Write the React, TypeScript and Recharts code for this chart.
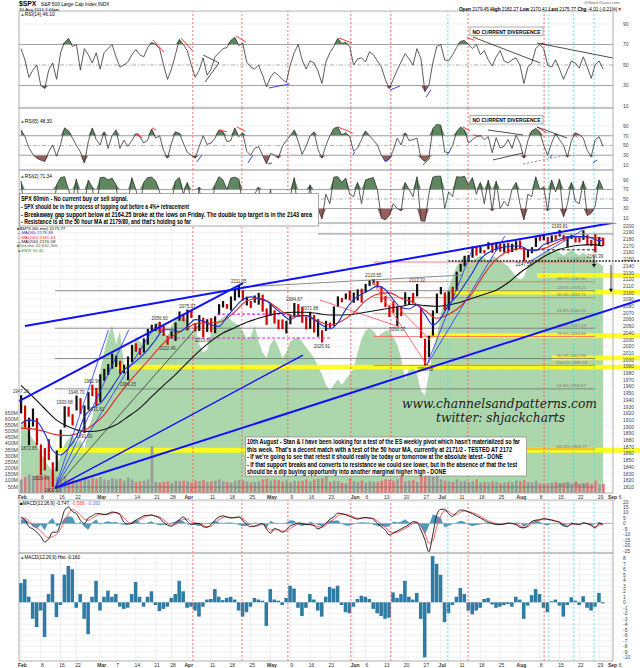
import React from "react";
import {
  ComposedChart, Line, Area, Bar, Cell, XAxis, YAxis, CartesianGrid,
  ReferenceLine, ReferenceArea, ReferenceDot,
} from "recharts";

const FONT = "'Liberation Sans', Arial, Helvetica, sans-serif";

// x = trading-day index: 0 = 1 Feb 2016 ... 147 = 30 Aug 2016
const closes = [
  1939.38, 1903.03, 1912.53, 1915.45, 1880.05, 1853.44, 1852.21, 1851.86, 1829.08, 1864.78, 1895.58, 1926.82, 1917.83, 1917.78, 1945.50, 1921.27, 1929.80, 1951.70, 1948.05, 1932.23,
  1978.35, 1986.45, 1993.40, 1999.99, 2001.76, 1979.26, 1989.26, 1989.57, 2022.19, 2019.64, 2015.93, 2027.22, 2040.59, 2049.58, 2051.60, 2049.80, 2036.71, 2035.94, 2037.05, 2055.01, 2063.95, 2059.74,
  2072.78, 2066.13, 2045.17, 2066.66, 2041.91, 2047.60, 2041.99, 2061.72, 2082.42, 2082.78, 2080.73, 2094.34, 2100.80, 2102.40, 2091.48, 2091.58, 2087.79, 2091.70, 2095.15, 2075.81, 2065.30,
  2081.43, 2063.37, 2051.12, 2050.63, 2057.14, 2058.69, 2084.39, 2064.46, 2064.11, 2046.61, 2066.66, 2047.21, 2047.63, 2040.04, 2052.32, 2048.04, 2076.06, 2090.54, 2090.10, 2099.06, 2096.95,
  2099.33, 2105.26, 2099.13, 2109.41, 2112.13, 2119.12, 2115.48, 2096.07, 2079.06, 2075.32, 2071.50, 2077.99, 2071.22, 2083.25, 2088.90, 2085.45, 2113.32, 2037.41, 2000.54, 2036.09, 2070.77, 2098.86,
  2102.95, 2088.55, 2099.73, 2097.90, 2129.90, 2137.16, 2152.14, 2152.43, 2163.75, 2161.74, 2166.89, 2163.78, 2173.02, 2165.17, 2175.03, 2168.48, 2169.18, 2166.58, 2170.06, 2173.60,
  2170.84, 2157.03, 2163.79, 2164.25, 2182.87, 2180.89, 2181.74, 2175.49, 2185.79, 2184.05, 2190.15, 2178.15, 2182.22, 2187.02, 2183.87, 2182.64, 2186.90, 2175.44, 2172.47, 2169.04, 2180.38, 2175.77,
];
const highs = [
  1947.20, 1931.70, 1913.74, 1927.35, 1913.07, 1873.70, 1868.25, 1881.60, 1847.04, 1864.78, 1895.77, 1930.68, 1930.01, 1918.78, 1946.70, 1942.75, 1932.08, 1951.83, 1962.96, 1958.27,
  1978.35, 1986.51, 1993.69, 2009.13, 2006.12, 1998.68, 1992.69, 2005.08, 2022.37, 2024.57, 2017.63, 2032.02, 2046.18, 2052.36, 2053.91, 2056.60, 2051.00, 2036.04, 2042.67, 2055.91, 2072.21, 2067.63,
  2075.07, 2074.02, 2055.20, 2067.03, 2062.93, 2060.63, 2062.32, 2065.05, 2083.18, 2087.84, 2083.22, 2094.66, 2104.92, 2111.05, 2103.94, 2094.32, 2087.84, 2096.06, 2099.89, 2097.36, 2076.72,
  2083.42, 2074.04, 2060.06, 2060.23, 2058.35, 2067.77, 2084.87, 2083.29, 2079.12, 2064.15, 2071.88, 2067.05, 2060.61, 2044.21, 2058.35, 2055.58, 2079.67, 2094.73, 2092.35, 2099.06, 2103.48,
  2100.41, 2105.26, 2106.24, 2113.36, 2119.22, 2120.55, 2117.64, 2109.58, 2095.14, 2081.30, 2087.60, 2079.62, 2079.62, 2100.83, 2093.94, 2099.71, 2113.32, 2076.87, 2031.45, 2036.09, 2073.74, 2098.94,
  2108.71, 2100.72, 2102.07, 2109.08, 2131.71, 2143.16, 2155.40, 2156.45, 2168.99, 2169.05, 2168.35, 2163.79, 2175.63, 2174.56, 2175.11, 2173.71, 2173.54, 2174.98, 2173.14, 2177.09,
  2178.29, 2168.09, 2163.95, 2168.19, 2182.87, 2185.44, 2187.66, 2183.41, 2185.79, 2186.28, 2193.81, 2186.24, 2183.48, 2187.03, 2185.00, 2184.87, 2193.42, 2186.66, 2179.00, 2187.94, 2183.48, 2182.27,
];
const lows = [
  1920.03, 1898.80, 1872.65, 1900.52, 1872.65, 1828.46, 1834.94, 1850.32, 1810.10, 1833.58, 1868.25, 1898.80, 1915.09, 1902.17, 1924.44, 1919.44, 1891.00, 1925.41, 1945.78, 1931.81,
  1937.09, 1968.80, 1977.37, 1986.77, 1989.38, 1978.45, 1979.84, 1969.25, 1996.71, 2012.05, 2007.21, 2010.95, 2022.62, 2041.89, 2043.14, 2040.57, 2035.73, 2022.49, 2031.96, 2028.31, 2058.36, 2057.50,
  2043.98, 2062.57, 2042.39, 2043.09, 2033.80, 2041.69, 2041.16, 2039.74, 2066.69, 2078.13, 2076.31, 2073.65, 2088.50, 2093.11, 2088.48, 2081.20, 2077.52, 2085.36, 2082.31, 2071.88, 2052.28,
  2066.11, 2054.15, 2045.55, 2045.77, 2039.30, 2053.13, 2064.62, 2064.46, 2055.37, 2045.43, 2046.32, 2040.82, 2034.49, 2025.91, 2043.26, 2047.26, 2050.37, 2078.93, 2085.91, 2090.34, 2088.66,
  2085.10, 2088.59, 2085.36, 2100.66, 2110.37, 2112.41, 2107.73, 2085.87, 2078.96, 2064.10, 2070.29, 2050.37, 2065.26, 2082.31, 2082.30, 2084.36, 2094.76, 2032.57, 1991.68, 2003.93, 2036.22, 2070.00,
  2097.90, 2074.02, 2074.02, 2089.39, 2103.48, 2131.72, 2139.58, 2146.21, 2152.49, 2155.79, 2159.07, 2158.79, 2164.89, 2159.75, 2163.24, 2161.55, 2160.18, 2159.07, 2161.07, 2163.49,
  2166.21, 2147.58, 2152.70, 2159.07, 2168.56, 2177.85, 2178.61, 2172.00, 2175.96, 2179.42, 2184.05, 2178.14, 2168.50, 2180.46, 2175.13, 2175.30, 2179.12, 2171.25, 2169.74, 2160.39, 2170.18, 2170.41,
];
const volumeM = [
  110, 130, 150, 140, 145, 160, 150, 140, 170, 130, 120, 135, 110, 120, 105, 100, 125, 110, 120, 115,
  130, 110, 105, 120, 110, 115, 100, 125, 110, 90, 95, 100, 110, 380, 90, 85, 90, 95, 80, 100, 95, 100,
  95, 85, 100, 95, 105, 90, 95, 100, 110, 95, 90, 85, 100, 105, 100, 95, 85, 90, 95, 110, 115,
  100, 110, 105, 95, 100, 90, 100, 95, 100, 110, 95, 110, 115, 120, 170, 90, 100, 95, 85, 80, 120,
  95, 90, 100, 85, 95, 90, 90, 100, 110, 105, 100, 110, 250, 95, 100, 105, 90, 220, 180, 140, 130, 150,
  110, 100, 95, 90, 110, 95, 100, 90, 95, 110, 85, 90, 85, 95, 90, 80, 85, 90, 85, 100,
  95, 105, 90, 85, 100, 80, 75, 80, 85, 90, 80, 85, 90, 75, 95, 70, 80, 85, 75, 100, 70, 75,
];
// green breadth overlay, 0-100 of panel height
const breadth = [
  25, 28, 22, 20, 18, 15, 12, 10, 8, 10, 14, 18, 20, 22, 18, 20, 16, 24, 28, 35,
  45, 52, 58, 62, 55, 60, 48, 40, 52, 58, 56, 55, 58, 60, 62, 64, 60, 58, 62, 64,
  66, 65, 64, 60, 62, 55, 52, 53, 60, 63, 64, 65, 66, 64, 63, 62, 60, 57, 58, 62,
  56, 52, 50, 55, 57, 54, 50, 52, 56, 57, 58, 56, 54, 52, 50, 47, 44, 40, 38, 40,
  42, 40, 42, 44, 46, 52, 57, 60, 61, 60, 58, 59, 60, 60, 58, 55, 50, 42, 46, 48,
  44, 38, 36, 44, 52, 58, 66, 72, 76, 80, 84, 86, 88, 87, 86, 87, 88, 87, 86, 88,
  87, 86, 85, 84, 82, 80, 79, 80, 84, 86, 87, 88, 89, 90, 89, 90, 89, 88, 89, 90,
  89, 88, 89, 88, 87, 86, 85, 84,
];
const rsi14 = [
  66, 55, 38, 45, 50, 30, 27, 45, 52, 36, 62, 72, 76, 68, 70, 45, 66, 60, 52, 62,
  46, 62, 66, 70, 58, 48, 50, 53, 60, 65, 60, 58, 67, 72, 70, 66, 50, 36, 46, 60,
  75, 70, 64, 50, 38, 45, 57, 40, 46, 58, 62, 66, 67, 74, 77, 69, 71, 53, 48, 46,
  50, 40, 29, 38, 43, 40, 36, 33, 50, 62, 70, 55, 46, 54, 52, 44, 32, 53, 62, 68,
  76, 71, 72, 68, 50, 56, 57, 53, 63, 60, 54, 48, 36, 27, 36, 45, 53, 61, 56, 50,
  66, 56, 24, 30, 52, 68, 70, 55, 54, 60, 67, 73, 74, 70, 66, 70, 60, 64, 55, 49,
  58, 64, 54, 52, 55, 57, 50, 32, 48, 52, 66, 70, 66, 50, 48, 55, 46, 36, 45, 54,
  52, 47, 58, 48, 37, 50, 54, 46,
];
const rsi5 = [
  82, 68, 45, 32, 24, 20, 17, 37, 51, 28, 52, 86, 80, 65, 50, 37, 14, 58, 86, 62,
  51, 78, 44, 70, 82, 44, 61, 48, 60, 74, 68, 55, 61, 84, 65, 70, 40, 24, 55, 78,
  75, 55, 36, 30, 24, 48, 70, 52, 55, 65, 82, 78, 58, 60, 86, 68, 76, 38, 30, 44,
  48, 30, 12, 34, 30, 24, 48, 60, 70, 82, 58, 32, 48, 70, 78, 42, 24, 50, 70, 85,
  88, 72, 76, 68, 38, 45, 62, 80, 70, 61, 51, 30, 17, 22, 40, 65, 51, 76, 60, 62,
  65, 24, 17, 25, 85, 93, 92, 37, 35, 50, 78, 88, 82, 55, 62, 68, 70, 62, 68, 35,
  66, 45, 48, 62, 44, 71, 55, 24, 60, 80, 85, 78, 50, 30, 55, 74, 62, 50, 26, 60,
  76, 72, 65, 40, 27, 62, 68, 48,
];
const rsi2 = [
  88, 12, 45, 60, 15, 8, 30, 55, 6, 80, 95, 97, 70, 45, 92, 15, 40, 90, 75, 20,
  95, 96, 90, 94, 80, 10, 55, 40, 95, 70, 35, 85, 95, 96, 88, 65, 20, 12, 40, 88, 95, 60,
  85, 45, 10, 75, 8, 40, 25, 80, 97, 90, 70, 94, 96, 92, 35, 40, 25, 60, 75, 12, 8,
  70, 15, 8, 12, 45, 55, 95, 20, 30, 10, 80, 15, 30, 8, 60, 40, 96, 97, 85, 94, 60,
  55, 85, 40, 90, 93, 95, 70, 10, 6, 15, 40, 30, 25, 85, 70, 55, 97, 4, 3, 60, 96, 98,
  98, 30, 65, 55, 97, 96, 98, 80, 95, 60, 85, 40, 90, 25, 88, 30, 45, 35, 70, 85,
  40, 6, 60, 55, 97, 70, 75, 25, 90, 65, 92, 12, 40, 85, 45, 40, 88, 15, 20, 35, 90, 71,
];
const macdLine = [
  6, 3, -3, -5, -8, -12, -17, -14, -8, -8, 0, 12, 15, 11, 9, 3, 0, 5, 7, 9,
  9, 8, 9, 10.5, 10, 8, 1, -0.5, 0, 3, 5, 7, 7.5, 7.8, 6.5, 5, 1, -1.5, -2.5, 0.5,
  3.5, 6, 2, -1, 0, 0, -3, -3.5, -1, 3, 6, 7, 6, 5, 5.5, 6, 3, -1, -3, -2.5,
  -1, 0, -5, -9, -4.5, -6, -8, -6, -2, -1, 0.5, 0, -1, -1, -2, -5, -3, 0, 4, 6,
  9.5, 9, 8, 6.5, 5, 4, 5, 5.5, 5, 4, 0, -3, -6, -10.5, -9, -7, -5, -3, -1, 1.7,
  1, -6, -15, -26, -10, 8, 13, 13, 9, 6.5, 10, 12.4, 12, 10.5, 9, 7, 5, 3, 1, 0,
  -1, -1, -0.5, 0.5, 0, -1, -3.5, -4, -2, 2, 3, 3.5, 4.5, 3.8, 3, 2, 1, -2, -3, 0,
  -0.5, -1, 0.5, 0, -2, -4, 0, -0.7,
];
const macdSignal = [
  4, 5, 2, -1, -4, -7, -11, -13, -12, -10, -5, 2, 9, 13, 11, 8, 4, 3, 5, 7,
  8.5, 8.5, 8.5, 9.5, 10, 9, 5, 1.5, 0, 1.5, 3.5, 5.5, 7, 7.5, 7, 6, 3.5, 0.5, -1.5, -1,
  1.5, 4, 4, 1.5, 0.5, 0, -1.5, -3, -2.5, 0.5, 3.5, 5.5, 6, 5.5, 5.3, 5.7, 4.5, 1.5, -1, -2.5,
  -2, -1, -3, -6, -6, -5.5, -7, -7, -4.5, -2.5, -0.5, 0, -0.5, -1, -1.5, -3, -3.5, -1.5, 1.5, 4,
  7, 8.5, 8.5, 7.5, 6, 4.8, 4.7, 5, 5, 4.5, 2.5, -0.5, -3.5, -7, -8.5, -8, -6.5, -4.5, -2.5, 0,
  1, -2.5, -9, -18, -16, -3, 7, 11.5, 11, 8.5, 8.5, 10.5, 11.5, 11, 10, 8.5, 6.5, 4.5, 2.5, 1,
  0, -0.5, -0.7, 0, 0, -0.5, -2, -3.5, -3, 0, 2, 3, 4, 4, 3.5, 2.5, 1.5, -0.5, -2, -1,
  -0.5, -0.7, 0, 0, -1, -3, -1.5, -0.5,
];
const macdHist = [
  3.5, 4.2, 1.0, -3.0, -4.5, -1.5, -6.3, 1.5, 5.1, -2.7, -0.5, 5.0, 6.6, 6.0, -1.0, 1.5, -3.0, -5.8, 1.0, 3.9,
  -1.5, 1.0, 2.1, 1.0, 1.5, -0.8, -1.2, -1.0, 1.5, 3.7, 1.0, -0.8, 1.0, 2.0, -0.5, -1.6, -1.2, -0.8, 0.8, 1.5,
  3.9, 2.0, -1.0, -0.8, -1.5, -2.6, -0.8, 0.5, 0.6, 2.4, 1.0, 0.4, 0.8, 1.0, 0.5, -1.5, -2.6, -1.8, -0.8, 0.8,
  0.5, 0.3, -4.3, 2.4, 0.5, 0.3, -0.5, 0.8, 3.0, 2.5, -1.0, -2.5, -1.0, 1.5, 0.5, -1.5, -2.6, 1.0, 2.8, 2.5,
  3.0, -0.5, -1.8, -2.0, -0.8, 0.6, 1.2, 1.0, 0.6, -1.2, -2.0, -2.5, -3.0, -2.8, 1.8, 0.8, 1.5, 3.9, 1.0, 0.5,
  1.7, -3.0, -10.0, -2.0, 8.4, 7.0, 5.0, -3.6, -2.0, -0.5, 1.0, 2.6, 1.5, -1.5, -2.2, -1.5, -1.0, 0.6, 0.8, -0.4,
  -1.0, -0.8, -0.5, -0.3, -0.8, 1.0, 0.5, -3.0, -0.6, 1.3, 2.4, 1.5, -1.0, -1.8, 0.2, 0.5, -0.6, -2.6, -0.5, 0.9,
  0.3, -0.5, 1.1, -1.0, -1.5, -0.8, 1.7, -0.2,
];
// moving averages [day, value]
const ma50 = [
  [0, 1905], [2, 1910], [4, 1908], [6, 1890], [8, 1865], [10, 1858], [12, 1868], [14, 1885], [16, 1915], [18, 1928],
  [20, 1935], [22, 1950], [24, 1968], [26, 1985], [28, 1993], [30, 2003], [32, 2015], [34, 2030], [36, 2045], [38, 2045],
  [40, 2042], [42, 2050], [44, 2060], [46, 2058], [48, 2052], [50, 2050], [52, 2064], [54, 2078], [56, 2090], [58, 2094],
  [60, 2091], [62, 2088], [64, 2078], [66, 2068], [68, 2060], [70, 2066], [72, 2066], [74, 2060], [76, 2052], [78, 2046],
  [80, 2055], [82, 2075], [84, 2090], [86, 2098], [88, 2104], [90, 2110], [92, 2105], [94, 2090], [96, 2078], [98, 2076],
  [100, 2082], [102, 2068], [104, 2052], [106, 2062], [108, 2082], [110, 2095], [112, 2112], [114, 2130], [116, 2150], [118, 2160],
  [120, 2166], [122, 2168], [124, 2170], [126, 2170], [128, 2164], [130, 2163], [132, 2172], [134, 2176], [136, 2180], [138, 2184],
  [140, 2184], [142, 2184], [144, 2182], [146, 2178], [147, 2179.4],
];
const ma100 = [
  [0, 1898], [3, 1897], [6, 1893], [9, 1888], [12, 1887], [15, 1892], [18, 1902], [21, 1918], [24, 1942], [27, 1965],
  [30, 1985], [33, 2005], [36, 2025], [39, 2038], [42, 2048], [45, 2055], [48, 2055], [51, 2058], [54, 2072], [57, 2088],
  [60, 2092], [63, 2085], [66, 2072], [69, 2065], [72, 2066], [75, 2058], [78, 2052], [81, 2058], [84, 2070], [87, 2088],
  [90, 2098], [93, 2100], [96, 2092], [99, 2086], [102, 2074], [105, 2062], [108, 2068], [111, 2080], [114, 2100], [117, 2128],
  [120, 2150], [123, 2162], [126, 2166], [129, 2164], [132, 2166], [135, 2174], [138, 2182], [141, 2184], [144, 2183], [147, 2181.6],
];
const ma200 = [
  [0, 1962], [3, 1945], [6, 1927], [9, 1910], [12, 1900], [15, 1894], [18, 1893], [21, 1896], [24, 1903], [27, 1915],
  [30, 1928], [33, 1945], [36, 1962], [39, 1978], [42, 1996], [45, 2013], [48, 2028], [51, 2040], [54, 2048], [57, 2056],
  [60, 2062], [63, 2067], [66, 2070], [69, 2071], [72, 2071], [75, 2069], [78, 2067], [81, 2067], [84, 2068], [87, 2071],
  [90, 2074], [93, 2077], [96, 2080], [99, 2083], [102, 2081], [105, 2080], [108, 2082], [111, 2086], [114, 2092], [117, 2098],
  [120, 2104], [123, 2115], [126, 2130], [129, 2142], [132, 2154], [135, 2163], [138, 2168], [141, 2171], [144, 2172], [147, 2170],
];

const dateTicks = [0, 5, 10, 14, 20, 24, 29, 34, 38, 42, 48, 53, 58, 63, 68, 73, 78, 84, 87, 92, 97, 102, 106, 111, 116, 121, 126, 131, 136, 141, 146, 149];
const dateLabels = ["Feb", "8", "16", "22", "Mar", "7", "14", "21", "28", "Apr", "11", "18", "25", "May", "9", "16", "23", "Jun", "6", "13", "20", "27", "Jul", "11", "18", "25", "Aug", "8", "15", "22", "29", "Sep"];
const priceTicks = Array.from({ length: 40 }, (_, k) => 1810 + k * 10);
const volTicks = [50, 100, 150, 200, 250, 300, 350, 400, 450, 500, 550, 600, 650];
const rsiTicks = [10, 30, 50, 70, 90];
const macdTicks = [-25, -20, -15, -10, -5, 0, 5, 10, 15, 20];
const histTicks = [-10, -9, -8, -7, -6, -5, -4, -3, -2, -1, 0, 1, 2, 3, 4, 5, 6, 7, 8];

const redMarks = [43.4, 55.8, 67.4, 83.3, 93.4, 112.9, 132.1];
const cyanMarks = [107.8, 133.3, 139.6, 144.7];

// trendlines [day1, price1, day2, price2]
const blueThick = [[1.0, 2050.5, 156.3, 2211.7], [8.6, 1808.6, 156.3, 2089.3], [-0.5, 1938.5, 56.1, 2114.7]];
const blueMedium = [[8.6, 1808.6, 71.2, 2007.2]];
const blueThin = [
  [8.6, 1808.6, 22.1, 2044.5], [8.6, 1808.6, 27.2, 2044.5], [8.6, 1808.6, 33.2, 2044.5],
  [102.5, 1992.3, 113.9, 2164], [102.5, 1992.3, 122.2, 2184.9], [127.8, 2144.5, 141.9, 2193.8],
];
const blackThin = [[8.6, 1808.6, 45.2, 2053.5]];
const grayLines = [[55.8, 2108.7, 111.6, 2126.6], [75, 2188, 149.5, 2188]];
const redLines = [[88.6, 2117.7, 102.5, 1992.3], [88.6, 2117.7, 103.3, 2029.6], [75.5, 2089.3, 95.7, 2048.9]];
const magentaLines = [[49.5, 2068.4, 67.9, 2068.4], [36.9, 2032.6, 78, 2032.6]];

const grayFibPct = ["23.6%", "38.2%", "50.0%", "61.8%", "100.0%"];
const grayFibLevels = [2103.25, 2047.23, 2001.96, 1956.67, 1810.10];
const redFibPct = ["23.6%", "38.2%", "50.0%", "61.8%", "78.6%", "100.0%", "161.8%"];
const redFibLevels = [2146.11, 2116.60, 2092.75, 2068.90, 2034.86, 1991.68, 1866.77];
const yellowLevels = [2126, 2101, 2036, 2003, 1989, 1865];
const yellowStarts = [130.3, 109, 103.3, 134, 24.2, 9.3];

const pivotDays = [0, 11, 14, 18, 35, 42, 55, 69, 73, 89, 100, 136, 2, 5, 8, 16, 19, 27, 37, 46, 76, 95, 102, 127, 145];
const pivotPrices = [1947.20, 1930.68, 1946.70, 1962.96, 2056.60, 2075.07, 2111.05, 2084.87, 2071.88, 2120.55, 2113.32, 2193.81, 1872.65, 1828.46, 1810.10, 1891.00, 1931.81, 1969.25, 2022.49, 2033.80, 2025.91, 2050.37, 1991.68, 2147.58, 2160.39];
const pivotIsHigh = [1, 1, 1, 1, 1, 1, 1, 1, 1, 1, 1, 1, 0, 0, 0, 0, 0, 0, 0, 0, 0, 0, 0, 0, 0];

// indicator trendlines [day1, v1, day2, v2]
const rsi14Red = [[33.3, 74.4, 36.1, 62.7], [40.4, 76.3, 43.4, 63.7], [54.3, 78.3, 56.8, 72.4], [80.3, 76.3, 83.6, 71.5], [112.5, 77, 114.5, 74], [131.3, 71.5, 132.8, 69.5]];
const rsi14Blue = [[62.6, 27.6, 67.9, 31.5], [93.2, 25.6, 95.7, 29.5], [102.3, 18.8, 103.5, 25.6]];
const rsi14Black = [[46, 59.8, 50, 52], [46.5, 33.4, 50, 52], [114.1, 77.3, 131.1, 52], [130.3, 71.5, 149.5, 56.8]];
const rsi5Red = [[29.3, 75.6, 30.6, 65.4], [33.1, 85.9, 34.1, 81.8], [50.3, 81.8, 52, 77.7], [54.5, 88, 56.6, 79.7], [80, 88, 83.8, 75.6], [111.6, 88, 113.4, 79.7], [114.1, 71.5, 116.4, 69.5], [130.3, 88, 132.8, 75.6], [139.4, 73.6, 140.4, 67.4]];
const rsi5Blue = [[44.4, 16.2, 45.7, 30.5], [57.3, 14.1, 58.6, 30.5], [62.4, 12, 63.4, 14.1], [83.8, 30.5, 84.3, 36.7], [91.9, 16.2, 93.2, 24.4], [101.5, 10, 103.3, 24.4], [107.6, 30.5, 108.3, 38.7], [133.6, 24.4, 134.1, 30.5], [144.4, 14.1, 145.5, 20.3]];
const rsi5Black = [[117.9, 81.8, 126.8, 71.5], [119.2, 20.3, 126.8, 34.6], [130.3, 88, 137.9, 65.4]];

const X_DOMAIN: [number, number] = [-0.5, 149.5];

const rows = closes.map((c, i) => ({
  i,
  range: [lows[i], highs[i]],
  down: i > 0 && c < closes[i - 1],
  vol: volumeM[i],
  breadth: breadth[i],
  r14: rsi14[i], r14Hi: Math.max(rsi14[i], 70), r14Lo: Math.min(rsi14[i], 30),
  r5: rsi5[i], r5Hi: Math.max(rsi5[i], 70), r5Lo: Math.min(rsi5[i], 30),
  r2: rsi2[i], r2Hi: Math.max(rsi2[i], 70), r2Lo: Math.min(rsi2[i], 30),
  macd: macdLine[i], signal: macdSignal[i], hist: macdHist[i],
}));
const toRows = (arr: number[][]) => arr.map(([i, v]) => ({ i, v }));

// keep the top label of a panel inside its own svg
const RightTick = (p: any) => (
  <text x={p.x + 10} y={Math.max(p.y + 1.8, 4.4)} fontSize={5} fill="#444" fontFamily={FONT}>{p.payload.value}</text>
);
// left volume scale sits in the 19px strip left of the plot
const VolTick = (p: any) => (
  <text x={18} y={p.y + 1.8} fontSize={5.3} fill="#444" textAnchor="end" fontFamily={FONT}>{p.payload.value}M</text>
);
const DateTick = (p: any) => {
  const lab = dateLabels[dateTicks.indexOf(p.payload.value)] ?? "";
  const month = /^[A-Z]/.test(lab);
  return (
    <g>
      <text x={p.x + 1.5} y={p.y + 5.5} textAnchor="middle" fontSize={5} fontWeight={month ? "bold" : "normal"} fill="#333" fontFamily={FONT}>{lab}</text>
      {lab === "Sep" ? <text x={p.x + 9} y={p.y + 5.5} textAnchor="middle" fontSize={5} fill="#333" fontFamily={FONT}>6</text> : null}
    </g>
  );
};

const seg = (s: number[], key: string, stroke: string, w: number, yId: any = 0, dash?: string) => (
  <ReferenceLine key={key} yAxisId={yId} segment={[{ x: s[0], y: s[1] }, { x: s[2], y: s[3] }]}
    stroke={stroke} strokeWidth={w} strokeDasharray={dash} ifOverflow="visible" />
);
const markLines = (yId: any = 0) => [
  ...redMarks.map((m, k) => <ReferenceLine key={"rm" + k} yAxisId={yId} x={m} stroke="#ff4a4a" strokeDasharray="2 2" strokeWidth={0.8} />),
  ...cyanMarks.map((m, k) => <ReferenceLine key={"cm" + k} yAxisId={yId} x={m} stroke="#3fe0e0" strokeDasharray="2 2" strokeWidth={0.8} />),
];

const hiddenX = (h = 0) => (
  <XAxis dataKey="i" type="number" domain={X_DOMAIN} ticks={dateTicks} interval={0} tick={false}
    axisLine={false} tickLine={false} height={h} allowDataOverflow />
);

function RsiPanel({ top, height, domain, k, segs }: any) {
  return (
    <div style={{ position: "absolute", left: 0, top, width: 640, height }}>
      <ComposedChart width={640} height={height} data={rows} margin={{ top: 0, right: 0, bottom: 0, left: 19 }}>
        <CartesianGrid stroke="#e4e4e4" strokeWidth={0.6} />
        {hiddenX()}
        <YAxis orientation="right" width={27} domain={domain} ticks={rsiTicks} interval={0} tick={<RightTick />}
          tickSize={0} tickMargin={0} axisLine={false} tickLine={false} allowDataOverflow />
        {markLines()}
        <ReferenceLine y={70} stroke="#9a9a9a" strokeWidth={0.9} />
        <ReferenceLine y={30} stroke="#9a9a9a" strokeWidth={0.9} />
        <ReferenceLine y={50} stroke="#9a9a9a" strokeWidth={0.7} strokeDasharray="4 2 1 2" />
        <Area dataKey={k + "Hi"} baseValue={70} type="linear" stroke="none" fill="#4f7b4f" fillOpacity={0.9} isAnimationActive={false} />
        <Area dataKey={k + "Lo"} baseValue={30} type="linear" stroke="none" fill="#8c4d4d" fillOpacity={0.9} isAnimationActive={false} />
        <Line dataKey={k} type="linear" stroke="#333" strokeWidth={0.8} dot={false} isAnimationActive={false} />
        {segs.red.map((s: number[], n: number) => seg(s, "r" + n, "#ff2020", 0.9))}
        {segs.blue.map((s: number[], n: number) => seg(s, "b" + n, "#2030ff", 0.9))}
        {segs.black.map((s: number[], n: number) => seg(s, "k" + n, "#222", 0.8))}
        {segs.dashed.map((s: number[], n: number) => seg(s, "d" + n, "#555", 0.7, 0, "2 2"))}
      </ComposedChart>
    </div>
  );
}

const triangleDown = (p: any) => (
  <path d={`M${p.cx - 2.2},${p.cy - 3.5}L${p.cx + 2.2},${p.cy - 3.5}L${p.cx},${p.cy}Z`} fill="#111" />
);

const T = ({ x, y, s = 5, bold, fill = "#000", len, italic, family, anchor, children }: any) => (
  <text x={x} y={y} fontSize={s} fontWeight={bold ? "bold" : "normal"} fill={fill} fontFamily={family ?? FONT}
    fontStyle={italic ? "italic" : "normal"} textAnchor={anchor} textLength={len} lengthAdjust={len ? "spacingAndGlyphs" : undefined}>{children}</text>
);

export default function App() {
  const P_DOMAIN: [number, number] = [1801.2, 2204.3];
  const box1 = [
    ["SPX 60min - No current buy or sell signal.", 107],
    ["- SPX should be in the process of topping out before a 4%+ retracement", 168],
    ["- Breakaway gap support below at 2164.25 broke at the lows on Friday. The double top target is in the 2143 area", 291],
    ["- Resistance is at the 50 hour MA at 2179/80, and that's holding so far", 170],
  ];
  const box2 = [
    ["10th August - Stan & I have been looking for a test of the ES weekly pivot which hasn't materialized so far", 273],
    ["this week. That's a decent match with a test of the 50 hour MA, currently at 2171/2 - TESTED AT 2172", 265],
    ["- If we're going to see that retest it should really be today or tomorrow at the absolute latest - DONE", 256],
    ["- If that support breaks and converts to resistance we could see lower, but in the absence of that the test", 270],
    ["should be a dip buying opportunity into another marginal higher high - DONE", 199],
  ];
  return (
    <div style={{ position: "absolute", left: 0, top: 0, width: 640, height: 668, background: "#fff", overflow: "hidden", fontFamily: FONT }}>
      <RsiPanel top={11} height={97} domain={[8.05, 102.68]} k="r14"
        segs={{ red: rsi14Red, blue: rsi14Blue, black: rsi14Black, dashed: [] }} />
      <RsiPanel top={108} height={62} domain={[-0.3, 126.9]} k="r5"
        segs={{ red: rsi5Red, blue: rsi5Blue, black: rsi5Black, dashed: [[126.8, 12, 137.9, 30.5]] }} />
      <RsiPanel top={170} height={53} domain={[-0.53, 111.05]} k="r2"
        segs={{ red: [], blue: [], black: [], dashed: [] }} />

      {/* main price panel: background layer */}
      <div style={{ position: "absolute", left: 0, top: 223, width: 640, height: 277 }}>
        <ComposedChart width={640} height={277} data={rows} margin={{ top: 0, right: 0, bottom: 0, left: 0 }}>
          <CartesianGrid yAxisId="p" stroke="#ececec" strokeWidth={0.6} />
          <XAxis dataKey="i" type="number" domain={X_DOMAIN} ticks={dateTicks} interval={0} tick={<DateTick />}
            tickSize={0} tickMargin={0} axisLine={false} tickLine={false} height={7} allowDataOverflow />
          <YAxis yAxisId="p" orientation="right" width={27} domain={P_DOMAIN} ticks={priceTicks} interval={0}
            tick={<RightTick />} tickSize={0} tickMargin={0} axisLine={false} tickLine={false} allowDataOverflow />
          <YAxis yAxisId="vol" orientation="left" width={19} domain={[0, 2190]} ticks={volTicks} interval={0}
            tick={<VolTick />} tickSize={0} tickMargin={0} axisLine={false} tickLine={false} allowDataOverflow />
          <YAxis yAxisId="g" hide domain={[0, 100]} allowDataOverflow />
          <Area yAxisId="g" dataKey="breadth" type="linear" stroke="none" fill="#9dcf9d" fillOpacity={0.85} isAnimationActive={false} />
          {yellowLevels.map((lv, n) => (
            <ReferenceArea key={"y" + n} yAxisId="p" x1={yellowStarts[n]} x2={156.3} y1={lv - 3.6} y2={lv + 3.6}
              fill="#ffff10" fillOpacity={0.9} stroke="none" ifOverflow="visible" />
          ))}
          {grayFibLevels.map((lv, n) => seg([8.6, lv, 145, lv], "gf" + n, "#707070", 0.8, "p"))}
          {redFibLevels.map((lv, n) => seg([89, lv, 145, lv], "rf" + n, "#ff5c5c", 0.8, "p"))}
          {grayFibLevels.map((lv, n) => (
            <ReferenceDot key={"gfl" + n} yAxisId="p" x={139} y={lv} r={0}
              label={{ value: `${grayFibPct[n]} ${lv.toFixed(2)}`, position: "top", offset: 1.5, fontSize: 4.3, fill: "#777" }} />
          ))}
          {redFibLevels.map((lv, n) => (
            <ReferenceDot key={"rfl" + n} yAxisId="p" x={139} y={lv} r={0}
              label={{ value: `${redFibPct[n]} ${lv.toFixed(2)}`, position: "top", offset: 1.5, fontSize: 4.3, fill: "#777" }} />
          ))}
          <Bar yAxisId="vol" dataKey="vol" barSize={2.6} isAnimationActive={false}>
            {rows.map((r) => <Cell key={r.i} fill={r.down ? "#e07a7a" : "#9a9a9a"} />)}
          </Bar>
          {markLines("p")}
        </ComposedChart>
      </div>

      {/* main price panel: price layer */}
      <div style={{ position: "absolute", left: 0, top: 223, width: 640, height: 277 }}>
        <ComposedChart width={640} height={277} data={rows} margin={{ top: 0, right: 27, bottom: 7, left: 19 }}>
          <XAxis dataKey="i" type="number" domain={X_DOMAIN} hide allowDataOverflow />
          <YAxis yAxisId="p" hide domain={P_DOMAIN} allowDataOverflow />
          {magentaLines.map((s, n) => seg(s, "mg" + n, "#f020f0", 1.2, "p", "3 2"))}
          {grayLines.map((s, n) => seg(s, "gl" + n, "#8a8a8a", 1, "p"))}
          {redLines.map((s, n) => seg(s, "rl" + n, "#ff6060", 0.9, "p"))}
          {seg([108, 2147.58, 156.3, 2147.58], "dot1", "#111", 1.6, "p", "1.6 1.6")}
          {seg([129, 2164.25, 145.5, 2164.25], "dot2", "#111", 1, "p", "3 2")}
          <Line yAxisId="p" data={toRows(ma200)} dataKey="v" type="monotone" stroke="#111" strokeWidth={1.1} dot={false} isAnimationActive={false} />
          <Line yAxisId="p" data={toRows(ma100)} dataKey="v" type="monotone" stroke="#e02828" strokeWidth={1.1} dot={false} isAnimationActive={false} />
          <Line yAxisId="p" data={toRows(ma50)} dataKey="v" type="monotone" stroke="#1a2fd0" strokeWidth={1.1} dot={false} isAnimationActive={false} />
          <Bar yAxisId="p" dataKey="range" barSize={2.2} isAnimationActive={false}>
            {rows.map((r) => <Cell key={r.i} fill={r.down ? "#d00000" : "#111"} />)}
          </Bar>
          {blueThick.map((s, n) => seg(s, "bt" + n, "#1010ff", 2, "p"))}
          {blueMedium.map((s, n) => seg(s, "bm" + n, "#1010ff", 1.4, "p"))}
          {blueThin.map((s, n) => seg(s, "bn" + n, "#2030ff", 0.8, "p"))}
          {blackThin.map((s, n) => seg(s, "kt" + n, "#222", 0.7, "p"))}
          {seg([149, 2141.5, 149, 2104], "arr1", "#111", 0.8, "p")}
          <ReferenceDot yAxisId="p" x={149} y={2101} r={0} shape={triangleDown} ifOverflow="visible" />
          {seg([144.7, 2156, 144.7, 2141], "arr2", "#111", 0.8, "p")}
          <ReferenceDot yAxisId="p" x={144.7} y={2138} r={0} shape={triangleDown} ifOverflow="visible" />
          {pivotDays.map((d, n) => (
            <ReferenceDot key={"pv" + n} yAxisId="p" x={d} y={pivotPrices[n]} r={0}
              label={{ value: pivotPrices[n].toFixed(2), position: pivotIsHigh[n] ? "top" : "bottom", offset: 2, fontSize: 4.5, fill: "#333" }} />
          ))}
        </ComposedChart>
      </div>

      {/* MACD */}
      <div style={{ position: "absolute", left: 0, top: 500, width: 640, height: 53 }}>
        <ComposedChart width={640} height={53} data={rows} margin={{ top: 0, right: 0, bottom: 0, left: 19 }}>
          <CartesianGrid stroke="#e6e6e6" strokeWidth={0.6} />
          {hiddenX()}
          <YAxis orientation="right" width={27} domain={[-27.1, 21.56]} ticks={macdTicks} interval={0} tick={<RightTick />}
            tickSize={0} tickMargin={0} axisLine={false} tickLine={false} allowDataOverflow />
          {markLines()}
          <Area dataKey="hist" baseValue={0} type="linear" stroke="none" fill="#3c8cb6" fillOpacity={0.9} isAnimationActive={false} />
          <ReferenceLine y={0} stroke="#7fb2cc" strokeWidth={0.8} />
          <Line dataKey="signal" type="monotone" stroke="#ff4848" strokeWidth={0.9} dot={false} isAnimationActive={false} />
          <Line dataKey="macd" type="monotone" stroke="#111" strokeWidth={0.9} dot={false} isAnimationActive={false} />
        </ComposedChart>
      </div>

      {/* MACD histogram */}
      <div style={{ position: "absolute", left: 0, top: 553, width: 640, height: 115 }}>
        <ComposedChart width={640} height={115} data={rows} margin={{ top: 0, right: 0, bottom: 0, left: 19 }}>
          <CartesianGrid stroke="#e6e6e6" strokeWidth={0.6} />
          <XAxis dataKey="i" type="number" domain={X_DOMAIN} ticks={dateTicks} interval={0} tick={<DateTick />}
            tickSize={0} tickMargin={0} axisLine={false} tickLine={false} height={7} allowDataOverflow />
          <YAxis orientation="right" width={27} domain={[-10.67, 8.96]} ticks={histTicks} interval={0} tick={<RightTick />}
            tickSize={0} tickMargin={0} axisLine={false} tickLine={false} allowDataOverflow />
          {markLines()}
          <Bar dataKey="hist" fill="#2f7ba3" barSize={4} isAnimationActive={false} />
        </ComposedChart>
      </div>

      {/* frames, legends and notes */}
      <svg width={640} height={668} style={{ position: "absolute", left: 0, top: 0, pointerEvents: "none" }}>
        <g fill="none" stroke="#a8a8a8" strokeWidth={0.8}>
          <rect x={19} y={11} width={594} height={97} />
          <rect x={19} y={108} width={594} height={62} />
          <rect x={19} y={170} width={594} height={53} />
          <rect x={19} y={223} width={594} height={270} />
          <rect x={19} y={500} width={594} height={53} />
          <rect x={19} y={553} width={594} height={108} />
        </g>

        <T x={19} y={6} s={6.8} bold>$SPX</T>
        <T x={41} y={5.8} s={4.8}>S&amp;P 500 Large Cap Index INDX</T>
        <T x={19} y={10.9} s={4.3}>30-Aug-2016 3:44pm</T>
        <T x={584} y={4.2} s={4.1} fill="#666">@StockCharts.com</T>
        <text x={459} y={10.6} fontSize={4.7} fontFamily={FONT} textLength={163} lengthAdjust="spacingAndGlyphs">
          <tspan fontWeight="bold">Open </tspan><tspan>2179.45 </tspan>
          <tspan fontWeight="bold">High </tspan><tspan>2182.27 </tspan>
          <tspan fontWeight="bold">Low </tspan><tspan>2170.41 </tspan>
          <tspan fontWeight="bold">Last </tspan><tspan>2175.77 </tspan>
          <tspan fontWeight="bold">Chg </tspan><tspan>-4.01 (-0.21%)</tspan><tspan fill="#d00">▼</tspan>
        </text>

        <text x={20} y={16} fontSize={4.8} fontFamily={FONT}><tspan fill="#4f7b4f">▲</tspan><tspan>RSI(14) 46.10</tspan></text>
        <text x={20} y={123.4} fontSize={4.8} fontFamily={FONT}><tspan fill="#4f7b4f">▲</tspan><tspan>RSI(5) 48.30</tspan></text>
        <text x={20} y={177.8} fontSize={4.8} fontFamily={FONT}><tspan fill="#4f7b4f">▲</tspan><tspan>RSI(2) 71.34</tspan></text>

        <rect x={470} y={27} width={73} height={8.6} fill="#fff" stroke="#777" strokeWidth={0.6} />
        <T x={472.5} y={33.6} s={5.6} bold len={68}>NO CURRENT DIVERGENCE</T>
        <rect x={470} y={115.4} width={73} height={8.6} fill="#fff" stroke="#777" strokeWidth={0.6} />
        <T x={472.5} y={122} s={5.6} bold len={68}>NO CURRENT DIVERGENCE</T>

        <rect x={19.5} y={193.5} width={299} height={32.5} fill="#fff" stroke="#888" strokeWidth={0.7} />
        {box1.map(([t, w], n) => (
          <T key={"b1" + n} x={21} y={201.2 + n * 7.7} s={6.3} bold len={w}>{t}</T>
        ))}

        <text x={17} y={229.8} fontSize={4.4} fontFamily={FONT}><tspan fill="#555">■</tspan><tspan>$SPX (60 min) 2175.77</tspan></text>
        <text x={17} y={234.2} fontSize={4.4} fontFamily={FONT} fill="#1a2fd0">—MA(50) 2179.38</text>
        <text x={17} y={238.6} fontSize={4.4} fontFamily={FONT} fill="#e02828">—MA(100) 2181.63</text>
        <text x={17} y={243} fontSize={4.4} fontFamily={FONT} fill="#111">—MA(200) 2170.08</text>
        <text x={17} y={247.4} fontSize={4.4} fontFamily={FONT} fill="#666">■Volume 41,632,350</text>
        <text x={17} y={251.8} fontSize={4.4} fontFamily={FONT} fill="#3f8f3f">▲EBW 56.40</text>

        <T x={402} y={408} s={13} italic family="'DejaVu Serif', 'Liberation Serif', serif" fill="#1c1c1c" len={195}>www.channelsandpatterns.com</T>
        <T x={436} y={421.5} s={13} italic family="'DejaVu Serif', 'Liberation Serif', serif" fill="#1c1c1c" len={129}>twitter: shjackcharts</T>

        <rect x={245.5} y={437} width={281} height={39} fill="#fff" stroke="#888" strokeWidth={0.7} />
        {box2.map(([t, w], n) => (
          <T key={"b2" + n} x={247} y={444.4 + n * 7.4} s={6.3} bold len={w}>{t}</T>
        ))}

        <text x={20} y={505.2} fontSize={4.6} fontFamily={FONT}>
          <tspan>■MACD(12,26,9) -0.747, </tspan><tspan fill="#ff4848">-0.588, </tspan><tspan fill="#6a6aff">-0.160</tspan>
        </text>
        <text x={20} y={558.6} fontSize={4.6} fontFamily={FONT}><tspan fill="#2f7ba3">▲</tspan><tspan>MACD(12,26,9) Hist -0.160</tspan></text>
      </svg>
    </div>
  );
}
